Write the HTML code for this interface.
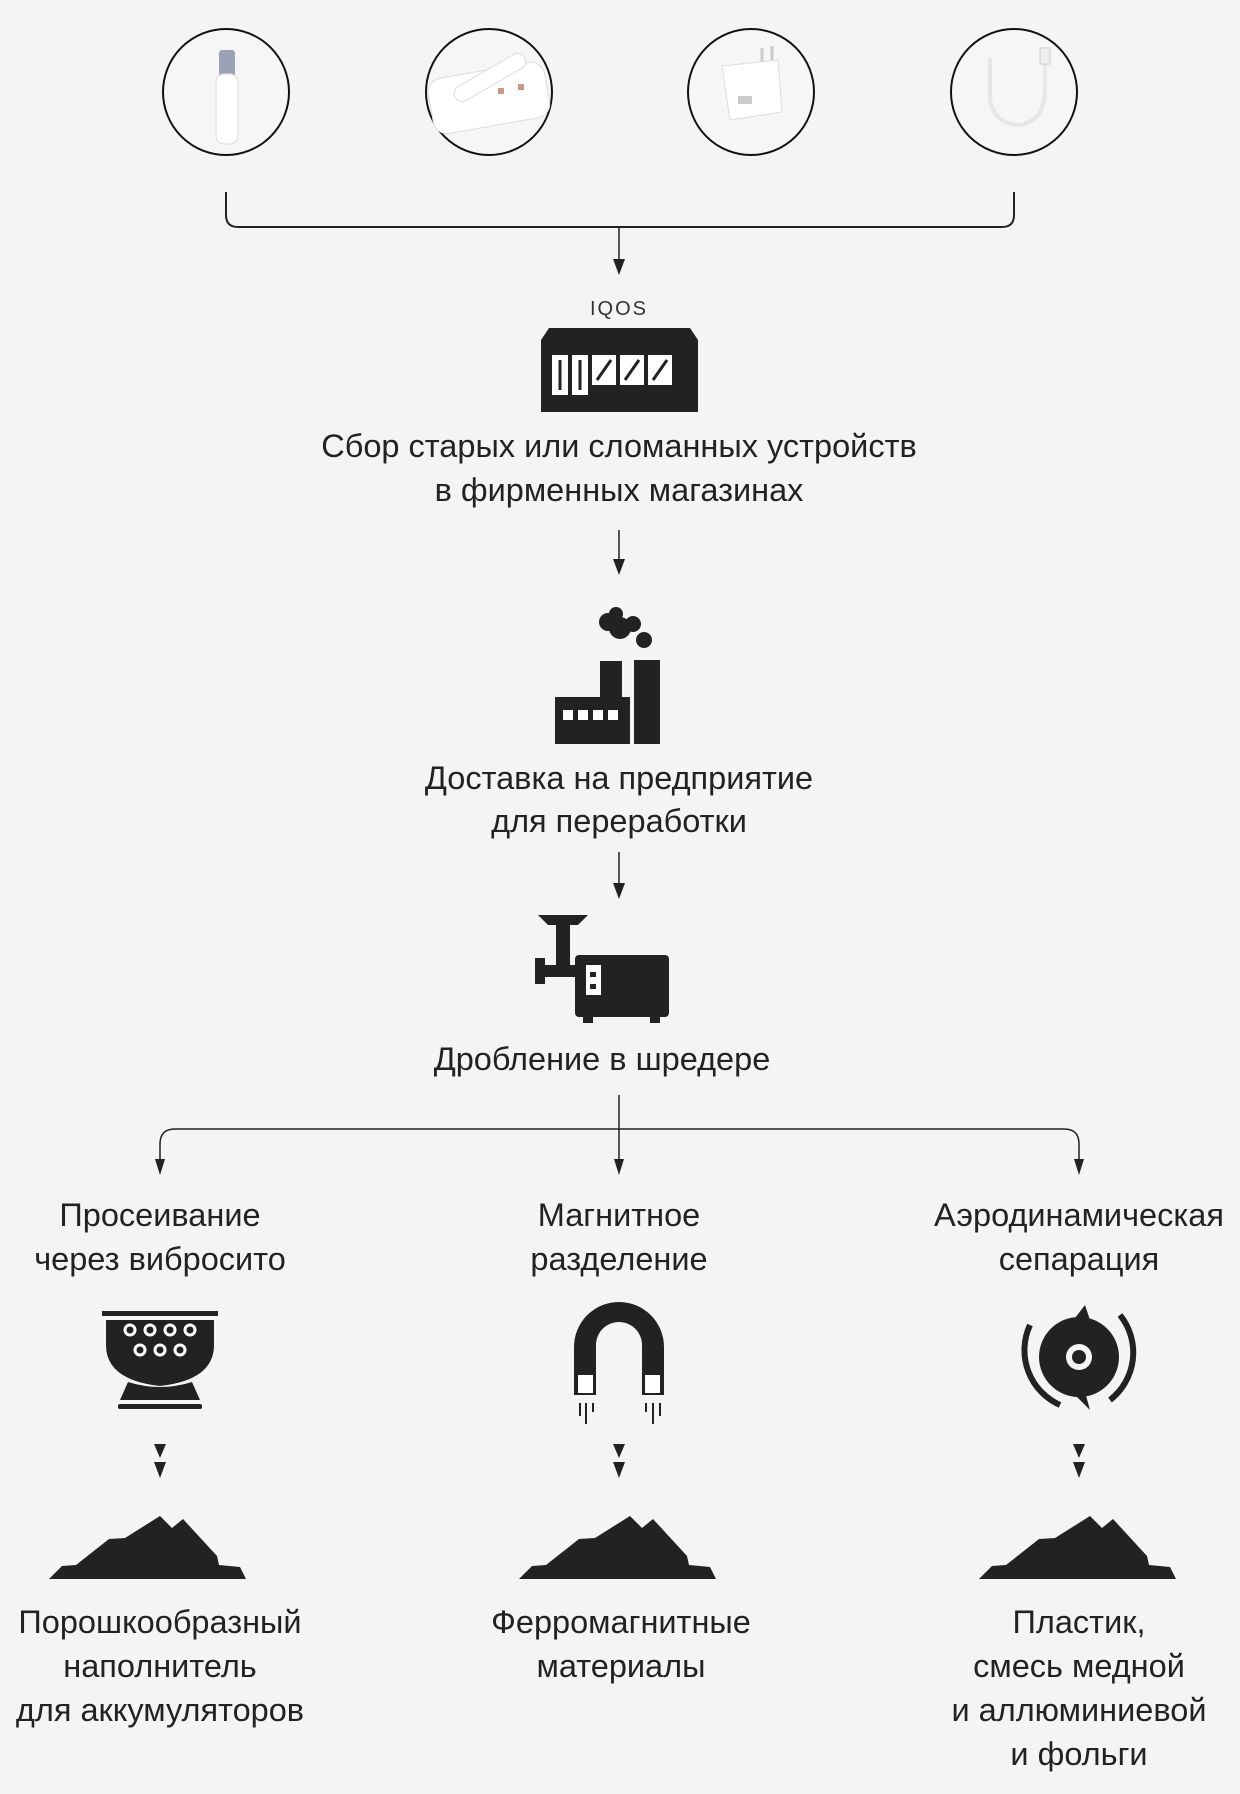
<!DOCTYPE html>
<html><head><meta charset="utf-8"><style>
html,body{margin:0;padding:0;background:#f4f4f4}
svg{display:block}
text{font-family:"Liberation Sans",sans-serif;fill:#222;font-size:32.5px;text-anchor:middle}
</style></head><body>
<svg width="1240" height="1794" viewBox="0 0 1240 1794" xmlns="http://www.w3.org/2000/svg">
<rect width="1240" height="1794" fill="#f4f4f4"/>
<g fill="#f6f6f6" stroke="#111" stroke-width="2">
<circle cx="226" cy="92" r="63"/><circle cx="489" cy="92" r="63"/>
<circle cx="751" cy="92" r="63"/><circle cx="1014" cy="92" r="63"/>
</g>
<rect x="219" y="50" width="16" height="28" rx="3" fill="#9aa3b5"/>
<rect x="216" y="74" width="22" height="70" rx="8" fill="#fff" stroke="#ddd"/>
<rect x="430" y="70" width="118" height="56" rx="14" fill="#fff" stroke="#ddd" transform="rotate(-10 489 98)"/>
<rect x="450" y="70" width="80" height="16" rx="8" fill="#fff" stroke="#ddd" transform="rotate(-30 489 78)"/>
<rect x="498" y="88" width="6" height="6" fill="#c98"/><rect x="518" y="84" width="6" height="6" fill="#c98"/>
<path d="M722,66 L778,60 L782,112 L730,120 Z" fill="#fff" stroke="#ddd"/>
<rect x="738" y="96" width="14" height="8" fill="#ccc"/>
<line x1="762" y1="48" x2="762" y2="62" stroke="#ccc" stroke-width="3"/><line x1="772" y1="46" x2="772" y2="60" stroke="#ccc" stroke-width="3"/>
<path d="M990,58 L990,100 Q995,125 1020,125 Q1045,120 1045,90 L1045,60" fill="none" stroke="#e6e6e6" stroke-width="4"/>
<rect x="1040" y="48" width="10" height="16" fill="#eee" stroke="#ccc"/>
<path d="M226,192 V215 Q226,227 238,227 H1002 Q1014,227 1014,215 V192" fill="none" stroke="#222" stroke-width="2"/>
<line x1="619" y1="227" x2="619" y2="262" stroke="#222" stroke-width="1.5"/>
<path d="M613,259 H625 L619,275 Z" fill="#222"/>
<text x="619" y="315" style="font-size:20px;letter-spacing:2px;fill:#333">IQOS</text>
<path d="M549,328 H690 L698,340 V412 H541 V340 Z" fill="#222"/>
<g fill="#fff"><rect x="552" y="355" width="16" height="40"/><rect x="572" y="355" width="16" height="40"/>
<rect x="592" y="355" width="24" height="30"/><rect x="620" y="355" width="24" height="30"/><rect x="648" y="355" width="24" height="30"/></g>
<g stroke="#222" stroke-width="3"><line x1="560" y1="360" x2="560" y2="390"/><line x1="580" y1="360" x2="580" y2="390"/>
<line x1="597" y1="380" x2="611" y2="360"/><line x1="625" y1="380" x2="639" y2="360"/><line x1="653" y1="380" x2="667" y2="360"/></g>
<text x="619" y="457">Сбор старых или сломанных устройств</text>
<text x="619" y="501">в фирменных магазинах</text>
<line x1="619" y1="530" x2="619" y2="562" stroke="#222" stroke-width="1.5"/>
<path d="M613,559 H625 L619,575 Z" fill="#222"/>
<g fill="#222">
<circle cx="608" cy="622" r="9"/><circle cx="620" cy="628" r="11"/><circle cx="633" cy="624" r="8"/><circle cx="644" cy="640" r="8"/><circle cx="616" cy="614" r="7"/>
<rect x="600" y="661" width="22" height="36"/><rect x="634" y="660" width="26" height="84"/>
<rect x="555" y="697" width="75" height="47"/></g>
<g fill="#fff"><rect x="563" y="710" width="10" height="10"/><rect x="578" y="710" width="10" height="10"/><rect x="593" y="710" width="10" height="10"/><rect x="608" y="710" width="10" height="10"/></g>
<text x="619" y="789">Доставка на предприятие</text>
<text x="619" y="832">для переработки</text>
<line x1="619" y1="852" x2="619" y2="886" stroke="#222" stroke-width="1.5"/>
<path d="M613,883 H625 L619,899 Z" fill="#222"/>
<g fill="#222">
<path d="M538,915 H588 L578,925 H548 Z"/><rect x="556" y="923" width="14" height="45"/>
<rect x="535" y="958" width="10" height="26"/><rect x="540" y="965" width="40" height="12"/>
<rect x="575" y="955" width="94" height="62" rx="4"/>
<rect x="583" y="1015" width="10" height="8"/><rect x="650" y="1015" width="10" height="8"/></g>
<rect x="586" y="965" width="15" height="30" fill="#fff"/><rect x="590" y="972" width="6" height="5" fill="#222"/><rect x="590" y="984" width="6" height="5" fill="#222"/>
<text x="602" y="1070">Дробление в шредере</text>
<line x1="619" y1="1095" x2="619" y2="1162" stroke="#222" stroke-width="1.5"/>
<path d="M160,1162 V1144 Q160,1129 175,1129 H1064 Q1079,1129 1079,1144 V1162" fill="none" stroke="#222" stroke-width="1.5"/>
<path d="M155,1159 L165,1159 L160,1175 Z M1074,1159 L1084,1159 L1079,1175 Z M614,1159 L624,1159 L619,1175 Z" fill="#222"/>
<text x="160" y="1226">Просеивание</text><text x="160" y="1270">через вибросито</text>
<text x="619" y="1226">Магнитное</text><text x="619" y="1270">разделение</text>
<text x="1079" y="1226">Аэродинамическая</text><text x="1079" y="1270">сепарация</text>
<g fill="#222"><rect x="102" y="1311" width="116" height="5"/>
<path d="M106,1320 H214 V1345 Q214,1380 160,1386 Q106,1380 106,1345 Z"/>
<path d="M128,1382 Q160,1392 192,1382 L200,1400 H120 Z"/><rect x="118" y="1404" width="84" height="5" rx="2"/></g>
<g fill="none" stroke="#fff" stroke-width="3"><circle cx="130" cy="1330" r="5"/><circle cx="150" cy="1330" r="5"/><circle cx="170" cy="1330" r="5"/><circle cx="190" cy="1330" r="5"/>
<circle cx="140" cy="1350" r="5"/><circle cx="160" cy="1350" r="5"/><circle cx="180" cy="1350" r="5"/></g>
<path d="M574,1395 V1347 A45,45 0 0 1 664,1347 V1395 H642 V1345 A23,23 0 0 0 596,1345 V1395 Z" fill="#222"/>
<rect x="577" y="1374" width="17" height="20" fill="#fff" stroke="#222" stroke-width="2"/>
<rect x="644" y="1374" width="17" height="20" fill="#fff" stroke="#222" stroke-width="2"/>
<g stroke="#222" stroke-width="2"><line x1="580" y1="1403" x2="580" y2="1416"/><line x1="586" y1="1403" x2="586" y2="1424"/><line x1="593" y1="1403" x2="593" y2="1412"/>
<line x1="646" y1="1403" x2="646" y2="1412"/><line x1="653" y1="1403" x2="653" y2="1424"/><line x1="660" y1="1403" x2="660" y2="1416"/></g>
<circle cx="1079" cy="1357" r="40" fill="#222"/>
<circle cx="1079" cy="1357" r="13" fill="#f4f4f4"/><circle cx="1079" cy="1357" r="7" fill="#222"/>
<path d="M1030,1325 A60,60 0 0 0 1060,1405" fill="none" stroke="#222" stroke-width="6"/>
<path d="M1120,1315 A60,60 0 0 1 1110,1400" fill="none" stroke="#222" stroke-width="6"/>
<path d="M1075,1318 L1085,1305 L1090,1320 Z M1075,1395 L1090,1410 L1085,1392 Z" fill="#222"/>
<g fill="#222">
<path d="M154,1444 H166 L160,1458 Z M154,1462 H166 L160,1478 Z"/>
<path d="M613,1444 H625 L619,1458 Z M613,1462 H625 L619,1478 Z"/>
<path d="M1073,1444 H1085 L1079,1458 Z M1073,1462 H1085 L1079,1478 Z"/></g>
<g fill="#222">
<path id="m" d="M49,1579 L62,1566 L76,1565 L109,1539 L125,1538 L160,1516 L172,1528 L183,1519 L217,1556 L219,1565 L240,1567 L246,1579 Z"/>
<use href="#m" x="470"/><use href="#m" x="930"/></g>
<text x="160" y="1633">Порошкообразный</text><text x="160" y="1677">наполнитель</text><text x="160" y="1721">для аккумуляторов</text>
<text x="621" y="1633">Ферромагнитные</text><text x="621" y="1677">материалы</text>
<text x="1079" y="1633">Пластик,</text><text x="1079" y="1677">смесь медной</text><text x="1079" y="1721">и аллюминиевой</text><text x="1079" y="1765">и фольги</text>
</svg>
</body></html>
